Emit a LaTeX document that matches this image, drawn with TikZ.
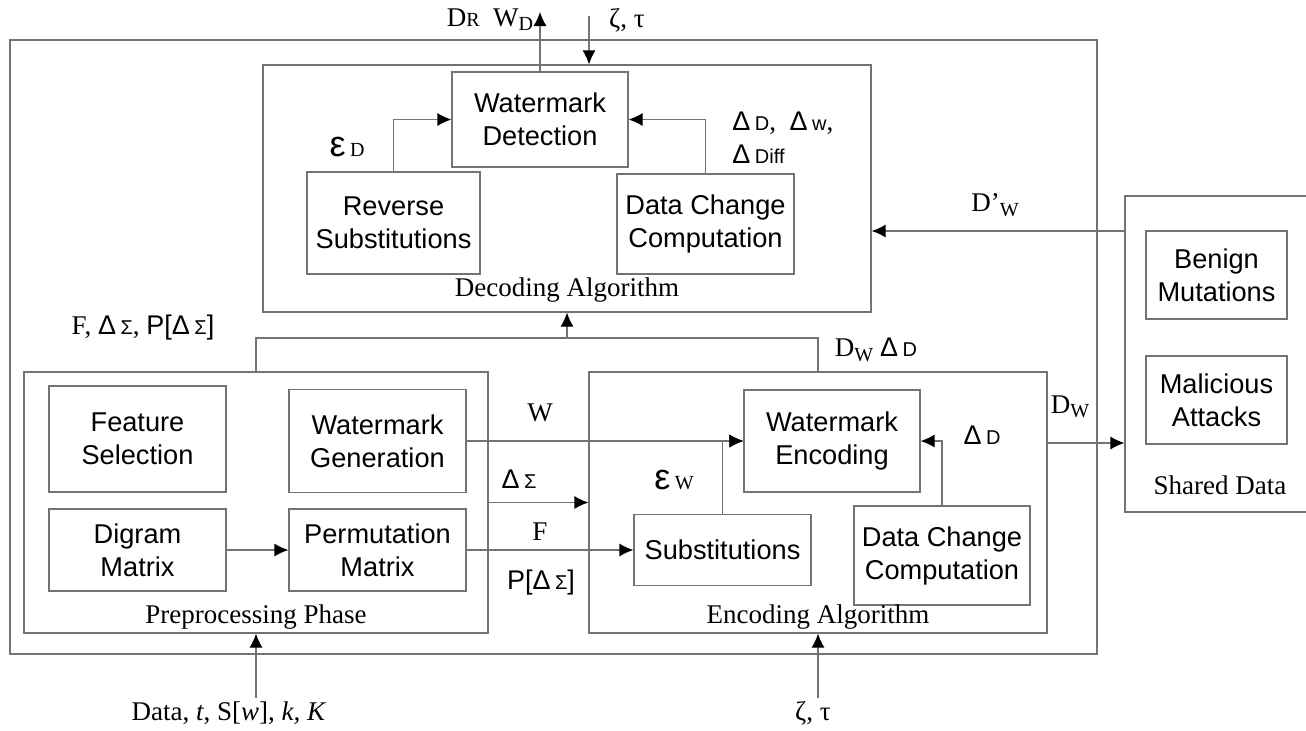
\documentclass[tikz,border=0pt]{standalone}
\usepackage{fontspec}
\setmainfont{Liberation Serif}
\setsansfont{Liberation Sans}
\usepackage{tikz}
\usetikzlibrary{arrows.meta,positioning}
\tikzstyle{bloque} = [draw=black!55, line width=0.6pt, rectangle, inner sep=0pt, align=center, font=\sffamily\fontsize{13.6pt}{16.5pt}\selectfont]
\tikzstyle{fase} = [draw=black!55, line width=0.6pt, rectangle, inner sep=0pt]
\tikzstyle{titulo} = [inner sep=0pt, font=\fontsize{13.5pt}{15pt}\selectfont]
\tikzstyle{etiqueta} = [inner sep=0pt, align=left, font=\fontsize{13.5pt}{16.5pt}\selectfont]
\tikzstyle{linea} = [draw=black!55, line width=0.6pt]
\tikzstyle{flecha} = [linea, -{Latex[length=7pt,width=6.5pt,color=black]}]
\newcommand{\chico}[1]{{\fontsize{10pt}{10pt}\selectfont #1}}
\newcommand{\indice}[1]{\raisebox{-0.35ex}{\chico{#1}}}
\newcommand{\dlt}[1]{{\sffamily Δ\,\chico{#1}}}
\newcommand{\dsig}{{\sffamily Δ\,\chico{Σ}}}
\newcommand{\epsi}[1]{{\sffamily\fontsize{18pt}{18pt}\selectfont ε}\,\chico{#1}}

\begin{document}
\begin{tikzpicture}[x=0.5pt, y=-0.5pt]
\useasboundingbox (0,0) rectangle (1306,730);
% marcos
\node [fase, minimum width=543.5pt, minimum height=307pt] (general) at (553.5,347) {};
\node [fase, minimum width=304pt, minimum height=123.5pt] (dec) at (567,188.5) {};
\node [fase, minimum width=232pt, minimum height=130.5pt] (prep) at (256,502.5) {};
\node [fase, minimum width=229pt, minimum height=130.5pt] (enc) at (818,502.5) {};
\node [fase, minimum width=110pt, minimum height=158pt] (shared) at (1235,354) {};
% decodificacion
\node [bloque, minimum width=88pt, minimum height=47.5pt] (WD) at (540,119.5) {Watermark\\Detection};
\node [bloque, minimum width=86.5pt, minimum height=51pt] (RS) at (393.5,223) {Reverse\\Substitutions};
\node [bloque, minimum width=88.5pt, minimum height=50pt] (DCCd) at (705.5,224) {Data Change\\Computation};
\node [titulo, above=5pt] (tdec) at (dec.south) {Decoding Algorithm};
% preprocesamiento
\node [bloque, minimum width=88.5pt, minimum height=53pt] (FS) at (137.5,439) {Feature\\Selection};
\node [bloque, minimum width=88.5pt, minimum height=51.5pt] (WG) at (377.5,441) {Watermark\\Generation};
\node [bloque, minimum width=88.5pt, minimum height=41pt] (DM) at (137.5,550) {Digram\\Matrix};
\node [bloque, minimum width=88.5pt, minimum height=41pt] (PM) at (377.5,550) {Permutation\\Matrix};
\node [titulo, above=2pt] (tprep) at (prep.south) {Preprocessing Phase};
% codificacion
\node [bloque, minimum width=88pt, minimum height=51pt] (WE) at (832,441) {Watermark\\Encoding};
\node [bloque, minimum width=88.5pt, minimum height=35.5pt] (Subs) at (722.5,550) {Substitutions};
\node [bloque, minimum width=88pt, minimum height=49.5pt] (DCCe) at (942,555.5) {Data Change\\Computation};
\node [titulo, above=2pt] (tenc) at (enc.south) {Encoding Algorithm};
% datos compartidos
\node [bloque, minimum width=70.5pt, minimum height=44pt] (BM) at (1216.5,275) {Benign\\Mutations};
\node [bloque, minimum width=70.5pt, minimum height=44pt] (MA) at (1216.5,400) {Malicious\\Attacks};
\node [titulo] (tshared) at (1220,485) {Shared Data};

% conexiones
\coordinate (salida) at (540,12);
\coordinate (entrada) at (589,16);
\coordinate (bus) at (567,338);
\coordinate (nivelDpW) at (1000,231);
\coordinate (nivelDW) at (1070,443);
\coordinate (datos) at (256,698);
\coordinate (claves) at (818,698);
\draw [flecha] (RS.north) |- (WD.west);
\draw [flecha] (DCCd.north) |- (WD.east);
\draw [flecha] (WD.north) -- (salida);
\draw [flecha] (entrada) -- (entrada |- dec.north);
\draw [linea] (prep.north) |- (bus) -| (enc.north);
\draw [flecha] (bus) -- (dec.south);
\draw [flecha] (DM) -- (PM);
\draw [flecha] (WG.east) -- (WE.west);
\draw [flecha] (prep.east) -- (enc.west);
\draw [flecha] (PM.east) -- (Subs.west);
\draw [flecha] (Subs.north) |- (WE.west);
\draw [flecha] (DCCe.north) |- (WE.east);
\draw [flecha] (enc.east |- nivelDW) -- (shared.west |- nivelDW);
\draw [flecha] (shared.west |- nivelDpW) -- (dec.east |- nivelDpW);
\draw [flecha] (datos) -- (prep.south);
\draw [flecha] (claves) -- (enc.south);

% etiquetas
\node [etiqueta] (lDRWD) at (490,20) {D\chico{R}\ \ W\indice{D}};
\node [etiqueta] (lzt) at (627,20) {ζ, τ};
\node [etiqueta] (lepsD) at (347,147) {\epsi{D}};
\node [etiqueta, anchor=west] (lDeltas) at (732,138) {\dlt{D}, \ \dlt{w},\\\dlt{Diff}};
\node [etiqueta] (lFDS) at (143,328) {F, \dsig, {\sffamily P[\dsig]}};
\node [etiqueta] (lDWDD) at (876,350) {D\indice{W}\ \dlt{D}};
\node [etiqueta] (lW) at (540,413) {W};
\node [etiqueta] (lDS) at (519,479) {\dsig};
\node [etiqueta] (lF) at (540,532) {F};
\node [etiqueta] (lP) at (541,583) {\sffamily P[\dsig]};
\node [etiqueta] (lepsW) at (674,480) {\epsi{W}};
\node [etiqueta] (lDD) at (982,435) {\dlt{D}};
\node [etiqueta] (lDW) at (1070,407) {D\indice{W}};
\node [etiqueta] (lDpW) at (995,205) {D’\indice{W}};
\node [etiqueta] (ldatos) at (229,713) {Data, \textit{t}, S[\textit{w}], \textit{k, K}};
\node [etiqueta] (lclaves) at (813,713) {ζ, τ};
\end{tikzpicture}
\end{document}
